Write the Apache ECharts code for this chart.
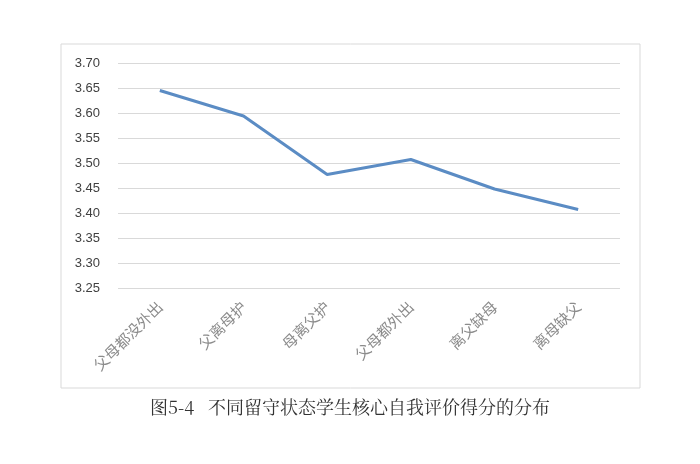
<!DOCTYPE html>
<html>
<head>
<meta charset="utf-8">
<script src="https://cdn.jsdelivr.net/npm/echarts@6/dist/echarts.min.js"></script>
<style>html,body{margin:0;padding:0;background:#fff}#chart{width:700px;height:464px}</style>
</head>
<body>
<div id="chart"></div>
<script>
const categories = ['父母都没外出', '父离母护', '母离父护', '父母都外出', '离父缺母', '离母缺父'];
const scores = [3.645, 3.594, 3.477, 3.507, 3.448, 3.407];
const pointLabels = ['3.65', '3.59', '3.48', '3.51', '3.45', '3.41'];

const chart = echarts.init(document.getElementById('chart'));
chart.setOption({
    backgroundColor: '#fff',
    animation: false,
    grid: { left: 118, right: 80, top: 63, bottom: 176 },
    graphic: [
        { type: 'rect', shape: { x: 61, y: 44, width: 579, height: 344 }, style: { fill: 'none', stroke: '#d9d9d9', lineWidth: 1 } },
        { type: 'text', left: 'center', top: 398, style: { text: '图5-4   不同留守状态学生核心自我评价得分的分布', font: '18px "Noto Serif CJK SC", "Noto Sans CJK SC", serif', fill: '#333' } }
    ],
    xAxis: {
        type: 'category',
        data: categories,
        axisLine: { show: false },
        axisTick: { show: false },
        axisLabel: { rotate: 45, color: '#8c8c8c', fontSize: 15, margin: 16, fontFamily: 'Noto Sans CJK SC' }
    },
    yAxis: {
        type: 'value',
        min: 3.25, max: 3.70, interval: 0.05,
        axisLine: { show: false },
        axisTick: { show: false },
        axisLabel: { color: '#404040', fontSize: 13, margin: 18, formatter: v => v.toFixed(2) },
        splitLine: { lineStyle: { color: '#d9d9d9' } }
    },
    series: [{
        type: 'line',
        data: scores,
        symbol: 'circle',
        symbolSize: 1,
        itemStyle: { color: '#5b8cc4', opacity: 0 },
        lineStyle: { color: '#5b8cc4', width: 3 },
        label: { show: true, position: 'top', distance: 12, color: '#404040', fontSize: 13, formatter: p => pointLabels[p.dataIndex] }
    }]
});
</script>
</body>
</html>
